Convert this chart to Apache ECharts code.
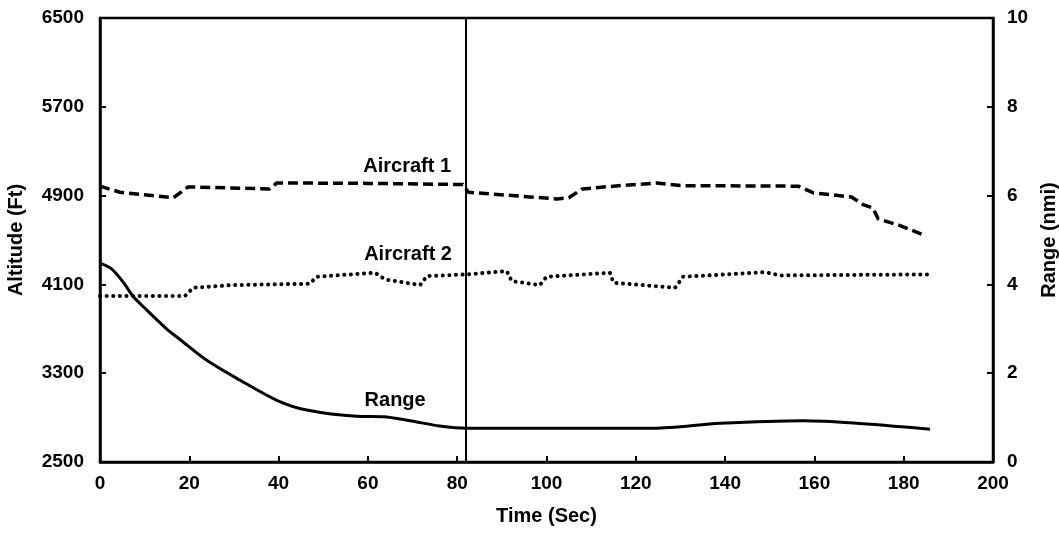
<!DOCTYPE html>
<html>
<head>
<meta charset="utf-8">
<script src="https://cdn.jsdelivr.net/npm/echarts@6/dist/echarts.min.js"></script>
<style>html,body{margin:0;padding:0;background:#fff}#c{width:1059px;height:534px}</style>
</head>
<body>
<div id="c"></div>
<script>
// Time ticks and axis labels
const timeTicks = [0, 20, 40, 60, 80, 100, 120, 140, 160, 180, 200];
const altTicks = [2500, 3300, 4100, 4900, 5700, 6500];
const rangeTicks = [0, 2, 4, 6, 8, 10];

// Aircraft 1 altitude (ft)
const time1 = [0, 4.5, 16.4, 19.7, 38, 39.6, 60, 81.3, 82.5, 102.3, 105, 108, 115, 124.7, 130, 156.4, 159.8, 168.3, 170.9, 173.1, 174.3, 179.2, 184.8];
const alt1  = [4985, 4930, 4880, 4978, 4960, 5014, 5010, 5000, 4930, 4870, 4880, 4960, 4985, 5014, 4990, 4985, 4924, 4888, 4819, 4789, 4690, 4630, 4540];

// Aircraft 2 altitude (ft)
const time2 = [0, 19, 20.9, 29.8, 47, 48.5, 61.6, 62.7, 63.8, 71.7, 73.2, 82.1, 91.1, 92.2, 98.5, 100, 114.2, 115, 128.8, 130.6, 148.9, 152.3, 185.9];
const alt2  = [3995, 3995, 4070, 4094, 4106, 4169, 4205, 4175, 4145, 4094, 4175, 4190, 4220, 4130, 4094, 4169, 4205, 4115, 4070, 4169, 4210, 4181, 4190];

// Range between aircraft (nmi)
const timeR  = [0, 2.6, 5.2, 7.5, 10.5, 14.9, 17.9, 23.9, 31.4, 39.6, 46.3, 57.5, 63.5, 69.4, 76.1, 82.1, 98.5, 124, 138.9, 157.5, 168.7, 185.9];
const rangeR = [4.48, 4.35, 4.05, 3.72, 3.42, 3.0, 2.76, 2.29, 1.84, 1.39, 1.17, 1.03, 1.02, 0.93, 0.81, 0.76, 0.76, 0.76, 0.87, 0.93, 0.88, 0.74];

// Marker time (vertical line)
const markerTime = 82;

// Annotations
const labels = [
  {text: 'Aircraft 1', t: 68.8, v: 5160, axis: 0},
  {text: 'Aircraft 2', t: 69, v: 4370, axis: 0},
  {text: 'Range', t: 66.1, v: 1.39, axis: 1}
];

const zip = (a, b) => a.map((x, i) => [x, b[i]]);
const FONT = 'Liberation Sans';
const txt = {color: '#000', fontFamily: FONT, fontWeight: 'bold', fontSize: 20};
const tickTxt = {color: '#000', fontFamily: FONT, fontWeight: 'bold', fontSize: 19};
const plain = v => String(v);

function mp(axis) {
  return {
    symbol: 'circle', symbolSize: 0, silent: true,
    label: Object.assign({show: true, position: 'inside', formatter: p => p.name}, txt),
    data: labels.filter(l => l.axis === axis).map(l => ({name: l.text, coord: [l.t, l.v]}))
  };
}

const chart = echarts.init(document.getElementById('c'), null, {renderer: 'canvas'});
chart.setOption({
  animation: false,
  backgroundColor: '#fff',
  grid: {left: 100, right: 66, top: 18, bottom: 72, containLabel: false, outerBoundsMode: 'none',
         show: true, borderColor: '#000', borderWidth: 2.5, backgroundColor: 'transparent'},
  xAxis: {
    type: 'value', min: 0, max: 200, interval: 20,
    name: 'Time (Sec)', nameLocation: 'middle', nameGap: 44, nameTextStyle: txt,
    axisLine: {show: true, lineStyle: {color: '#000', width: 2.5}},
    axisTick: {show: true, inside: true, length: 6, lineStyle: {color: '#000', width: 2}, customValues: timeTicks.slice(1, -1)},
    axisLabel: Object.assign({margin: 12, customValues: timeTicks, formatter: plain}, tickTxt),
    splitLine: {show: false}
  },
  yAxis: [{
    type: 'value', min: 2500, max: 6500, position: 'left',
    name: 'Altitude (Ft)', nameLocation: 'middle', nameGap: 74, nameRotate: 90, nameTextStyle: txt,
    axisLine: {show: true, lineStyle: {color: '#000', width: 2.5}},
    axisTick: {show: true, inside: true, length: 6, lineStyle: {color: '#000', width: 2}, customValues: altTicks.slice(1, -1)},
    axisLabel: Object.assign({margin: 16, customValues: altTicks, formatter: plain}, tickTxt),
    splitLine: {show: false}
  }, {
    type: 'value', min: 0, max: 10, interval: 2, position: 'right',
    name: 'Range (nmi)', nameLocation: 'middle', nameGap: 44, nameRotate: 90, nameTextStyle: txt,
    axisLine: {show: true, lineStyle: {color: '#000', width: 2.5}},
    axisTick: {show: true, inside: true, length: 6, lineStyle: {color: '#000', width: 2}, customValues: rangeTicks.slice(1, -1)},
    axisLabel: Object.assign({margin: 14, customValues: rangeTicks, formatter: plain}, tickTxt),
    splitLine: {show: false}
  }],
  series: [{
    name: 'Aircraft 1', type: 'line', yAxisIndex: 0, showSymbol: false, symbol: 'none',
    data: zip(time1, alt1),
    lineStyle: {color: '#000', width: 3.5, type: [10, 5]},
    markPoint: mp(0),
    markLine: {
      silent: true, symbol: 'none', label: {show: false},
      lineStyle: {color: '#000', width: 2, type: 'solid'},
      data: [{xAxis: markerTime}]
    }
  }, {
    name: 'Aircraft 2', type: 'line', yAxisIndex: 0, showSymbol: false, symbol: 'none',
    data: zip(time2, alt2),
    lineStyle: {color: '#000', width: 4, type: [0.1, 6.5], cap: 'round'}
  }, {
    name: 'Range', type: 'line', yAxisIndex: 1, showSymbol: false, symbol: 'none', smooth: 0.3,
    data: zip(timeR, rangeR),
    lineStyle: {color: '#000', width: 3},
    markPoint: mp(1)
  }]
});
</script>
</body>
</html>
